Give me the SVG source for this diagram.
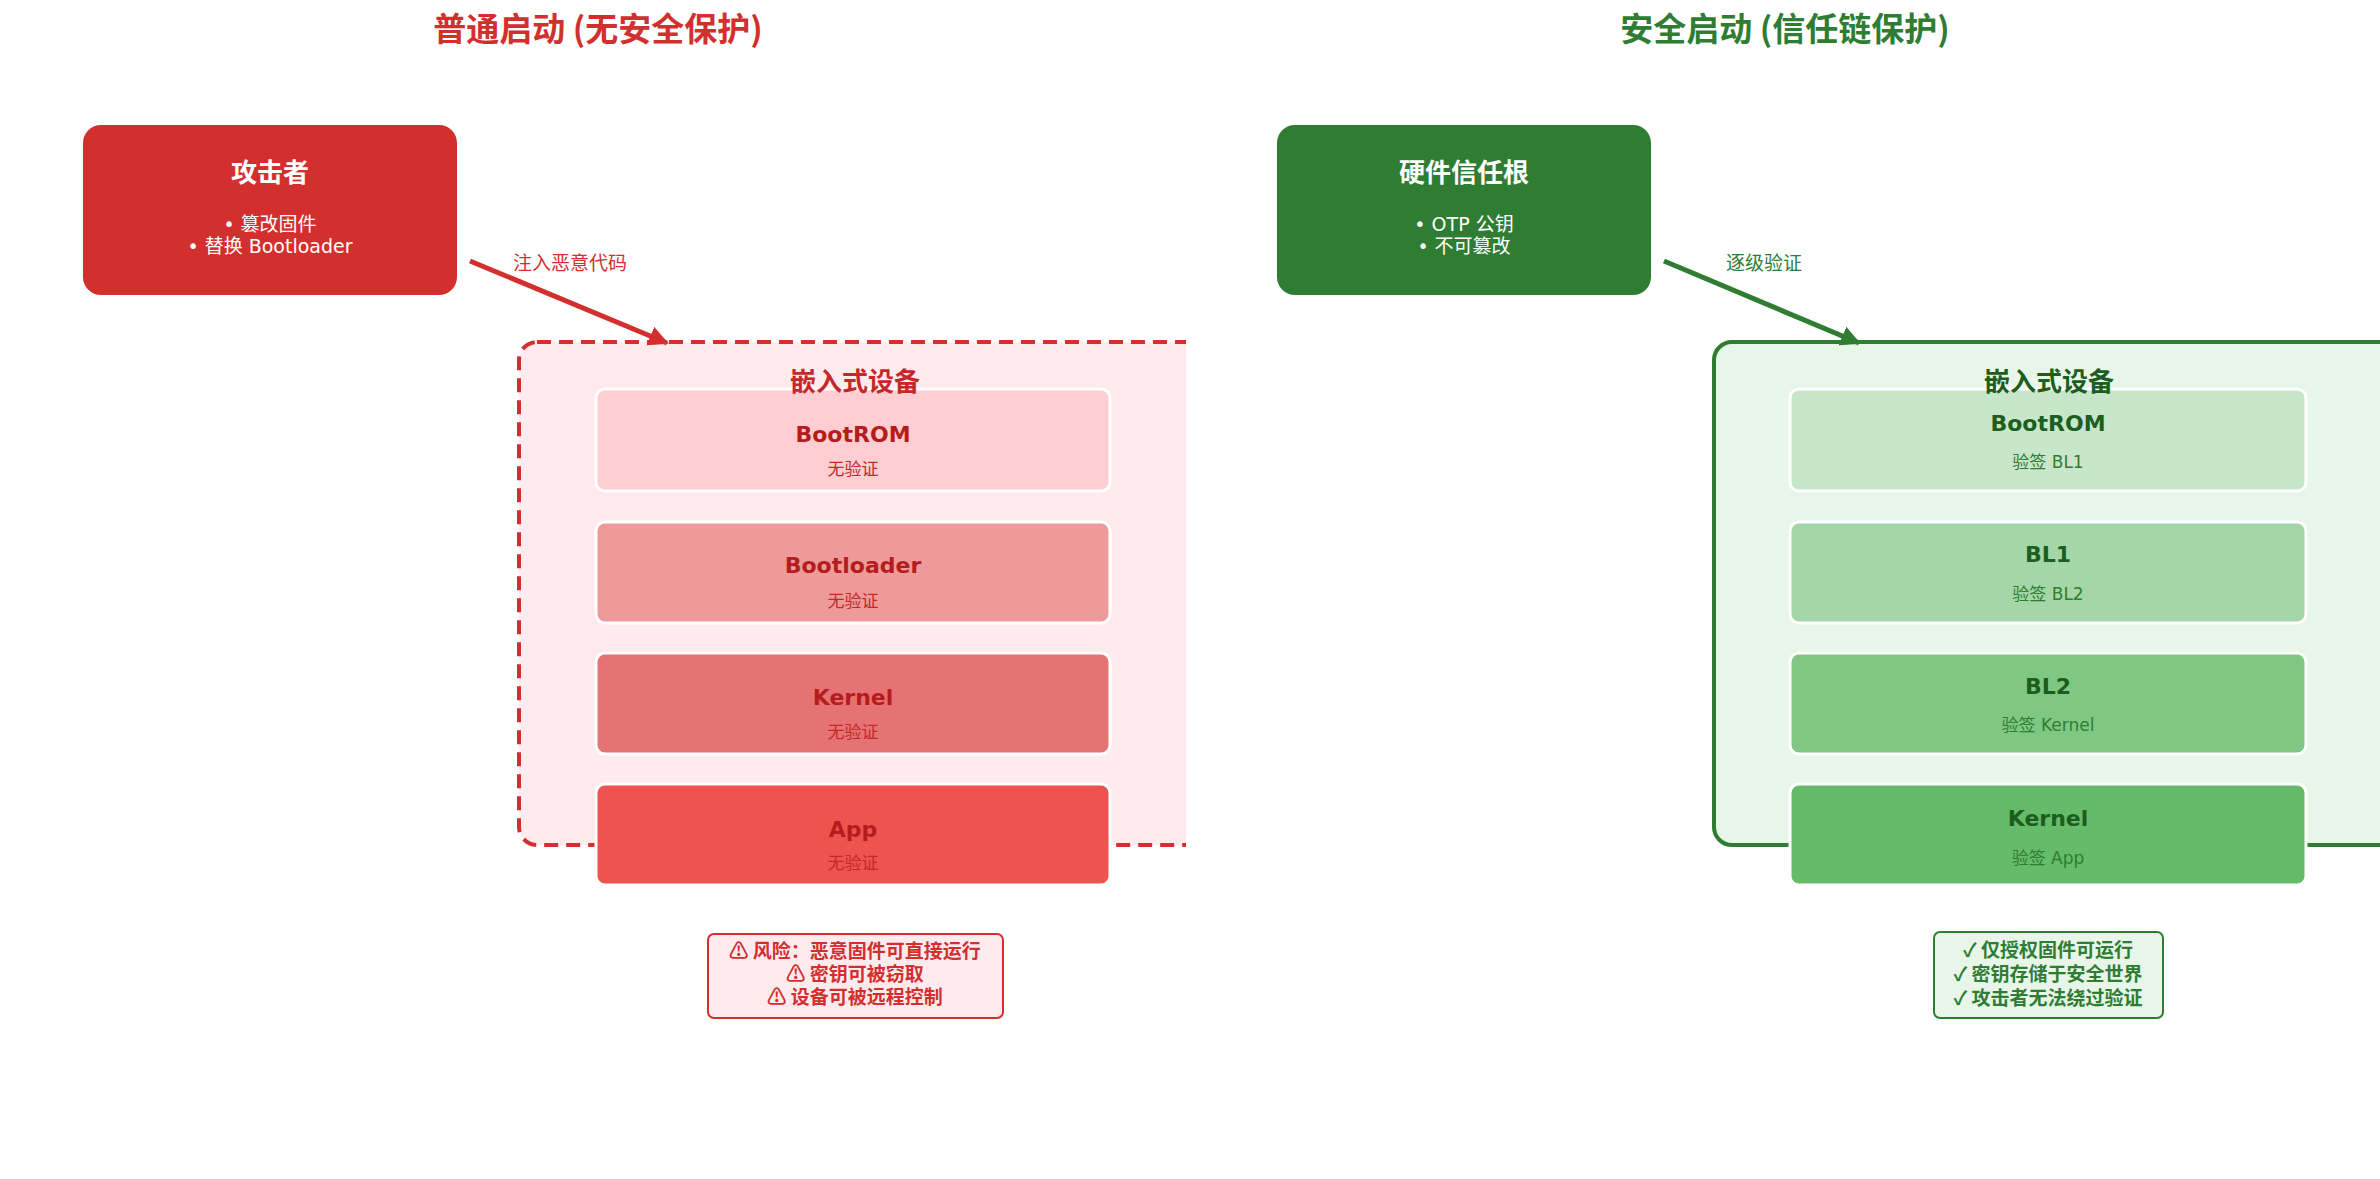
<svg xmlns="http://www.w3.org/2000/svg" width="2380" height="1179" viewBox="0 0 2380 1179">
<style>
text{font-family:"DejaVu Sans","Noto Sans CJK SC",sans-serif;text-anchor:middle}
.t{font-family:"Noto Sans CJK SC",sans-serif;font-weight:bold;font-size:33px}
.nt{font-family:"Noto Sans CJK SC",sans-serif;font-weight:bold;font-size:26px;fill:#fff}
.nb{font-size:19px;fill:#fff}
.lab{font-family:"Noto Sans CJK SC",sans-serif;font-size:19px}
.ct{font-family:"Noto Sans CJK SC",sans-serif;font-weight:bold;font-size:26px}
.lt{font-weight:bold;font-size:22px}
.ls{font-size:17px}
.layer{stroke:#fff;stroke-width:3}
.note{font-family:"Noto Sans CJK SC",sans-serif;font-weight:bold;font-size:19px}
</style>
<defs>
<marker id="ar" viewBox="0 0 10 10" refX="9" refY="5" markerWidth="4" markerHeight="4" orient="auto"><path d="M0,0L10,5L0,10z" fill="#d32f2f"/></marker>
<marker id="ag" viewBox="0 0 10 10" refX="9" refY="5" markerWidth="4" markerHeight="4" orient="auto"><path d="M0,0L10,5L0,10z" fill="#2e7d32"/></marker>
<clipPath id="cl"><rect x="0" y="0" width="1186" height="1179"/></clipPath>
<clipPath id="cr"><rect x="1190" y="0" width="1190" height="1179"/></clipPath>
</defs>
<rect width="2380" height="1179" fill="#fff"/>
<text class="t" x="598" y="41" fill="#d32f2f">普通启动 (无安全保护)</text>
<text class="t" x="1785" y="41" fill="#2e7d32">安全启动 (信任链保护)</text>
<g id="attacker">
<rect x="83" y="125" width="374" height="170" rx="18" fill="#d32f2f"/>
<text class="nt" x="270" y="182">攻击者</text>
<text class="nb" x="270" y="231">• 篡改固件</text>
<text class="nb" x="270" y="253">• 替换 Bootloader</text>
</g>
<g id="hwroot">
<rect x="1277" y="125" width="374" height="170" rx="18" fill="#2e7d32"/>
<text class="nt" x="1464" y="182">硬件信任根</text>
<text class="nb" x="1464" y="231">• OTP 公钥</text>
<text class="nb" x="1464" y="253">• 不可篡改</text>
</g>
<g id="dev-left" clip-path="url(#cl)">
<rect x="519" y="342" width="720" height="503" rx="18" fill="#ffebee" stroke="#d32f2f" stroke-width="4" stroke-dasharray="14,8"/>
</g>
<g id="dev-right" clip-path="url(#cr)">
<rect x="1714" y="342" width="720" height="503" rx="18" fill="#e8f5e9" stroke="#2e7d32" stroke-width="4"/>
</g>
<g id="l-bootrom"><rect class="layer" x="596" y="389" width="514" height="102" rx="9" fill="#ffcdd2"/><text class="lt" x="853" y="442" fill="#b71c1c">BootROM</text><text class="ls" x="853" y="475" fill="#c62828">无验证</text></g>
<g id="l-bootloader"><rect class="layer" x="596" y="522" width="514" height="101" rx="9" fill="#ef9a9a"/><text class="lt" x="853" y="573" fill="#b71c1c">Bootloader</text><text class="ls" x="853" y="607" fill="#c62828">无验证</text></g>
<g id="l-kernel"><rect class="layer" x="596" y="653" width="514" height="101" rx="9" fill="#e57373"/><text class="lt" x="853" y="705" fill="#b71c1c">Kernel</text><text class="ls" x="853" y="738" fill="#c62828">无验证</text></g>
<g id="l-app"><rect class="layer" x="596" y="784" width="514" height="101" rx="9" fill="#ef5350"/><text class="lt" x="853" y="837" fill="#b71c1c">App</text><text class="ls" x="853" y="869" fill="#c62828">无验证</text></g>
<g id="r-bootrom"><rect class="layer" x="1790" y="389" width="516" height="102" rx="9" fill="#c8e6c9"/><text class="lt" x="2048" y="431" fill="#1b5e20">BootROM</text><text class="ls" x="2048" y="468" fill="#2e7d32">验签 BL1</text></g>
<g id="r-bl1"><rect class="layer" x="1790" y="522" width="516" height="101" rx="9" fill="#a5d6a7"/><text class="lt" x="2048" y="562" fill="#1b5e20">BL1</text><text class="ls" x="2048" y="600" fill="#2e7d32">验签 BL2</text></g>
<g id="r-bl2"><rect class="layer" x="1790" y="653" width="516" height="101" rx="9" fill="#81c784"/><text class="lt" x="2048" y="694" fill="#1b5e20">BL2</text><text class="ls" x="2048" y="731" fill="#2e7d32">验签 Kernel</text></g>
<g id="r-kernel"><rect class="layer" x="1790" y="784" width="516" height="101" rx="9" fill="#66bb6a"/><text class="lt" x="2048" y="826" fill="#1b5e20">Kernel</text><text class="ls" x="2048" y="864" fill="#2e7d32">验签 App</text></g>
<text class="ct" x="855" y="391" fill="#c62828">嵌入式设备</text>
<text class="ct" x="2049" y="391" fill="#1b5e20">嵌入式设备</text>
<g id="connectors">
<line x1="470" y1="261" x2="667" y2="343" stroke="#d32f2f" stroke-width="5" marker-end="url(#ar)"/>
<line x1="1664" y1="261" x2="1859" y2="343" stroke="#2e7d32" stroke-width="5" marker-end="url(#ag)"/>
<text class="lab" x="570" y="270" fill="#d32f2f">注入恶意代码</text>
<text class="lab" x="1764" y="270" fill="#2e7d32">逐级验证</text>
</g>
<g id="risk">
<rect x="708" y="934" width="295" height="84" rx="6" fill="#ffebee" stroke="#d32f2f" stroke-width="2"/>
<text class="note" x="855" y="958" fill="#d32f2f">⚠ 风险：恶意固件可直接运行</text>
<text class="note" x="855" y="981" fill="#d32f2f">⚠ 密钥可被窃取</text>
<text class="note" x="855" y="1004" fill="#d32f2f">⚠ 设备可被远程控制</text>
</g>
<g id="safe">
<rect x="1934" y="932" width="229" height="86" rx="6" fill="#e8f5e9" stroke="#2e7d32" stroke-width="2"/>
<text class="note" x="2048" y="957" fill="#2e7d32">✓ 仅授权固件可运行</text>
<text class="note" x="2048" y="981" fill="#2e7d32">✓ 密钥存储于安全世界</text>
<text class="note" x="2048" y="1005" fill="#2e7d32">✓ 攻击者无法绕过验证</text>
</g>
</svg>
